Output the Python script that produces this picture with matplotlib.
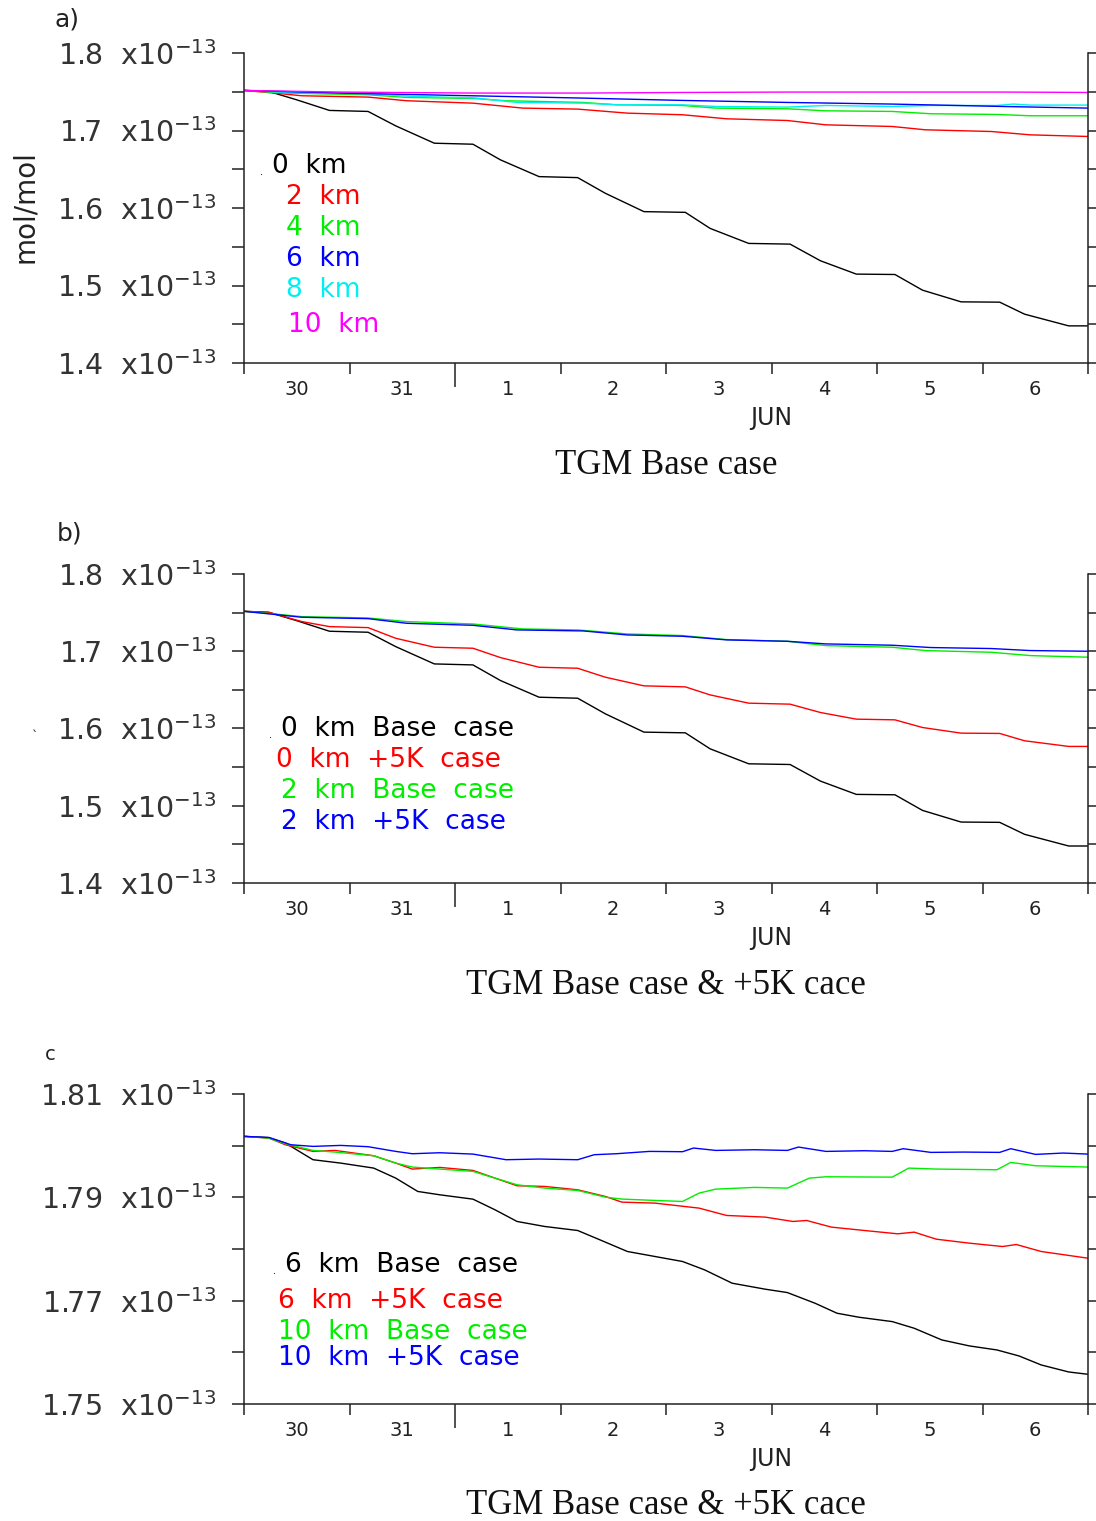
import matplotlib
matplotlib.use('Agg')
import matplotlib.pyplot as plt

plt.rcParams['font.family'] = ['DejaVu Sans']
plt.rcParams['mathtext.default'] = 'regular'

# time in days since 30 May 00:00, values in units of 1e-13 mol/mol
days = ['30', '31', '1', '2', '3', '4', '5', '6']

# panel a
t_0km = [0, 0.235, 0.497, 0.810, 1.176, 1.438, 1.804, 2.170, 2.431, 2.797, 3.163, 3.425, 3.791,
         4.183, 4.418, 4.784, 5.176, 5.464, 5.804, 6.170, 6.431, 6.797, 7.163, 7.399, 7.817, 8.0]
v_0km = [1.7517, 1.7504, 1.7397, 1.7259, 1.7246, 1.7060, 1.6836, 1.6823, 1.6621, 1.6405, 1.6392,
         1.6190, 1.5953, 1.5944, 1.5737, 1.5543, 1.5534, 1.5319, 1.5147, 1.5142, 1.4940, 1.4789,
         1.4785, 1.4630, 1.4479, 1.4479]
t_2km = [0, 0.288, 0.549, 1.176, 1.542, 2.170, 2.641, 3.163, 3.634, 4.157, 4.575, 5.150, 5.516,
         6.144, 6.458, 7.085, 7.451, 8.0]
v_2km = [1.7517, 1.7483, 1.7448, 1.7431, 1.7384, 1.7353, 1.7289, 1.7276, 1.7224, 1.7203, 1.7151,
         1.7129, 1.7073, 1.7052, 1.7009, 1.6987, 1.6944, 1.6923]
t_4km = [0, 0.392, 1.176, 1.542, 2.170, 2.484, 3.216, 3.529, 4.157, 4.471, 5.150, 5.516, 6.144,
         6.510, 7.137, 7.451, 8.0]
v_4km = [1.7517, 1.7483, 1.7461, 1.7427, 1.7414, 1.7384, 1.7362, 1.7332, 1.7323, 1.7289, 1.7280,
         1.7254, 1.7246, 1.7216, 1.7207, 1.7190, 1.7190]
t_6km = [0, 0.915, 2.170, 3.216, 4.157, 5.150, 6.144, 7.190, 8.0]
v_6km = [1.7517, 1.7483, 1.7448, 1.7418, 1.7388, 1.7362, 1.7341, 1.7310, 1.7289]
t_8km = [0, 0.392, 1.176, 1.595, 2.170, 2.588, 3.216, 3.529, 4.157, 4.471, 5.150, 5.516, 6.144,
         6.510, 7.137, 7.294, 7.451, 8.0]
v_8km = [1.7517, 1.7491, 1.7474, 1.7440, 1.7422, 1.7362, 1.7353, 1.7332, 1.7332, 1.7310, 1.7302,
         1.7323, 1.7310, 1.7323, 1.7323, 1.7341, 1.7328, 1.7328]
t_10km = [0, 0.915, 2.170, 3.216, 4.157, 5.150, 6.144, 7.190, 8.0]
v_10km = [1.7517, 1.7496, 1.7483, 1.7483, 1.7491, 1.7496, 1.7496, 1.7496, 1.7491]

# panel b: 0 km +5K and 2 km +5K
t_0km_5k = [0, 0.235, 0.549, 0.810, 1.176, 1.438, 1.804, 2.170, 2.431, 2.797, 3.163, 3.425, 3.791,
            4.183, 4.418, 4.784, 5.176, 5.464, 5.804, 6.170, 6.431, 6.797, 7.163, 7.399, 7.817, 8.0]
v_0km_5k = [1.7517, 1.7504, 1.7384, 1.7319, 1.7306, 1.7168, 1.7052, 1.7039, 1.6918, 1.6793, 1.6780,
            1.6664, 1.6552, 1.6539, 1.6435, 1.6328, 1.6315, 1.6207, 1.6121, 1.6112, 1.6013, 1.5940,
            1.5936, 1.5841, 1.5768, 1.5768]
t_2km_5k = [0, 0.549, 1.176, 1.542, 2.170, 2.588, 3.216, 3.634, 4.157, 4.575, 5.150, 5.516, 6.144,
            6.510, 7.085, 7.451, 8.0]
v_2km_5k = [1.7517, 1.7440, 1.7422, 1.7362, 1.7336, 1.7276, 1.7263, 1.7211, 1.7194, 1.7147, 1.7129,
            1.7095, 1.7078, 1.7048, 1.7035, 1.7009, 1.7000]

# panel c
t_c6 = [0, 0.235, 0.392, 0.654, 0.915, 1.229, 1.438, 1.647, 1.856, 2.170, 2.379, 2.588, 2.850,
        3.163, 3.373, 3.634, 3.895, 4.157, 4.366, 4.627, 4.941, 5.150, 5.412, 5.621, 5.830, 6.144,
        6.353, 6.614, 6.876, 7.137, 7.346, 7.556, 7.817, 8.0]
v_c6 = [1.80180, 1.80154, 1.80051, 1.79728, 1.79663, 1.79566, 1.79372, 1.79114, 1.79049, 1.78965,
        1.78759, 1.78533, 1.78436, 1.78358, 1.78178, 1.77952, 1.77855, 1.77758, 1.77596, 1.77338,
        1.77222, 1.77157, 1.76951, 1.76757, 1.76679, 1.76595, 1.76466, 1.76240, 1.76124, 1.76046,
        1.75930, 1.75756, 1.75620, 1.75575]
t_c6_5k = [0, 0.235, 0.392, 0.654, 0.863, 1.229, 1.438, 1.595, 1.856, 2.170, 2.379, 2.588, 2.850,
           3.163, 3.425, 3.582, 3.895, 4.314, 4.575, 4.941, 5.203, 5.333, 5.569, 5.882, 6.196,
           6.353, 6.562, 6.876, 7.190, 7.320, 7.556, 8.0]
v_c6_5k = [1.80180, 1.80147, 1.80018, 1.79889, 1.79908, 1.79805, 1.79663, 1.79547, 1.79579, 1.79521,
           1.79372, 1.79224, 1.79211, 1.79146, 1.79017, 1.78907, 1.78888, 1.78791, 1.78649, 1.78617,
           1.78533, 1.78552, 1.78423, 1.78358, 1.78294, 1.78326, 1.78190, 1.78113, 1.78048, 1.78087,
           1.77952, 1.77822]
t_c10 = [0, 0.235, 0.392, 0.654, 0.863, 1.229, 1.438, 1.595, 1.856, 2.170, 2.379, 2.588, 2.850,
         3.163, 3.425, 3.582, 3.895, 4.157, 4.314, 4.471, 4.837, 5.150, 5.359, 5.516, 6.144, 6.301,
         6.562, 7.137, 7.268, 7.503, 8.0]
v_c10 = [1.80180, 1.80147, 1.80038, 1.79908, 1.79876, 1.79805, 1.79663, 1.79586, 1.79547, 1.79502,
         1.79372, 1.79243, 1.79179, 1.79133, 1.79004, 1.78966, 1.78940, 1.78920, 1.79082, 1.79159,
         1.79192, 1.79179, 1.79372, 1.79398, 1.79391, 1.79566, 1.79547, 1.79534, 1.79676, 1.79611,
         1.79586]
t_c10_5k = [0, 0.235, 0.444, 0.654, 0.915, 1.176, 1.438, 1.595, 1.856, 2.170, 2.484, 2.797, 3.163,
            3.320, 3.529, 3.843, 4.157, 4.261, 4.471, 4.837, 5.150, 5.255, 5.516, 5.882, 6.144,
            6.248, 6.510, 6.824, 7.163, 7.268, 7.503, 7.765, 8.0]
v_c10_5k = [1.80180, 1.80160, 1.80018, 1.79986, 1.80005, 1.79980, 1.79889, 1.79844, 1.79863, 1.79837,
            1.79728, 1.79741, 1.79728, 1.79825, 1.79844, 1.79889, 1.79883, 1.79954, 1.79908, 1.79921,
            1.79908, 1.79973, 1.79889, 1.79902, 1.79889, 1.79941, 1.79870, 1.79876, 1.79870, 1.79941,
            1.79831, 1.79857, 1.79837]

W, H = 1096, 1521
RED, GREEN, BLUE, CYAN, MAG = '#ff0000', '#00ee00', '#0000ff', '#00f0f0', '#ff00ff'

fig = plt.figure(figsize=(W / 100, H / 100), dpi=100)


def px(x, y):
    return x / W, 1 - y / H


def make_axes(top, bottom, ylim, major, minor, fmt):
    ax = fig.add_axes([244 / W, 1 - bottom / H, 844 / W, (bottom - top) / H])
    ax.set_xlim(0, 8)
    ax.set_ylim(*ylim)
    ax.spines['top'].set_visible(False)
    for s in ['left', 'right', 'bottom']:
        ax.spines[s].set_linewidth(1.1)
        ax.spines[s].set_color('#222222')
    ax.set_yticks(major)
    ax.set_yticklabels([fmt % v + '  x10$^{-13}$' for v in major], fontsize=20.5, color='#333333')
    ax.set_yticks(minor, minor=True)
    ax.tick_params(axis='y', which='both', direction='out', length=9, width=1.1,
                   right=True, pad=11, colors='#222222')
    ax.tick_params(axis='y', labelcolor='#333333')
    ax.set_xticks(range(9))
    ax.set_xticklabels([''] * 9)
    ax.set_xticks([d + 0.5 for d in range(8)], minor=True)
    ax.set_xticklabels(days, minor=True, fontsize=14, color='#222222')
    ax.tick_params(axis='x', which='major', direction='out', length=8, width=1.1, color='#222222')
    ax.tick_params(axis='x', which='minor', length=0, pad=12)
    ax.xaxis.get_major_ticks()[2].tick1line.set_markersize(17)
    return ax


def labels(ax_bottom, title):
    fig.text(*px(771, ax_bottom + 55), 'JUN', fontsize=17, ha='center', va='center', color='#222222')
    fig.text(*px(666, ax_bottom + 102), title, fontsize=25, ha='center', va='center',
             family='Liberation Serif', color='#111111')


def legend(entries, dot):
    fig.text(*px(*dot), '.', fontsize=7, ha='left', va='center', color='black')
    for (x, y, s, c) in entries:
        fig.text(*px(x, y), s, fontsize=19, ha='left', va='center', color=c)


lw = 1.0

# ---- panel a
ax = make_axes(53, 363, (1.4, 1.8), [1.4, 1.5, 1.6, 1.7, 1.8], [1.45, 1.55, 1.65, 1.75], '%.1f')
ax.plot(t_0km, v_0km, color='black', lw=lw)
ax.plot(t_2km, v_2km, color=RED, lw=lw)
ax.plot(t_4km, v_4km, color=GREEN, lw=lw)
ax.plot(t_8km, v_8km, color=CYAN, lw=lw)
ax.plot(t_6km, v_6km, color=BLUE, lw=lw)
ax.plot(t_10km, v_10km, color=MAG, lw=lw)
labels(363, 'TGM Base case')
legend([(272, 166, '0  km', 'black'), (286, 197, '2  km', RED), (286, 228, '4  km', GREEN),
        (286, 259, '6  km', BLUE), (286, 290, '8  km', CYAN), (288, 325, '10  km', MAG)],
       (260, 172))
fig.text(*px(55, 20), 'a)', fontsize=18, ha='left', va='center', color='#222222')
fig.text(*px(25, 207), 'mol/mol', fontsize=20, rotation=90, ha='center', va='center', color='#222222')

# ---- panel b
ax = make_axes(574, 883, (1.4, 1.8), [1.4, 1.5, 1.6, 1.7, 1.8], [1.45, 1.55, 1.65, 1.75], '%.1f')
ax.plot(t_0km, v_0km, color='black', lw=lw)
ax.plot(t_0km_5k, v_0km_5k, color=RED, lw=lw)
ax.plot(t_2km, v_2km, color=GREEN, lw=lw)
ax.plot(t_2km_5k, v_2km_5k, color=BLUE, lw=lw)
labels(883, 'TGM Base case & +5K cace')
legend([(281, 729, '0  km  Base  case', 'black'), (276, 760, '0  km  +5K  case', RED),
        (281, 791, '2  km  Base  case', GREEN), (281, 822, '2  km  +5K  case', BLUE)],
       (269, 735))
fig.text(*px(57, 534), 'b)', fontsize=18, ha='left', va='center', color='#222222')
fig.text(*px(35, 737), '`', fontsize=9, ha='center', va='center', color='#222222')

# ---- panel c
ax = make_axes(1094, 1404, (1.75, 1.81), [1.75, 1.77, 1.79, 1.81], [1.76, 1.78, 1.80], '%.2f')
ax.plot(t_c6, v_c6, color='black', lw=lw)
ax.plot(t_c6_5k, v_c6_5k, color=RED, lw=lw)
ax.plot(t_c10, v_c10, color=GREEN, lw=lw)
ax.plot(t_c10_5k, v_c10_5k, color=BLUE, lw=lw)
labels(1404, 'TGM Base case & +5K cace')
legend([(285, 1265, '6  km  Base  case', 'black'), (278, 1301, '6  km  +5K  case', RED),
        (278, 1332, '10  km  Base  case', GREEN), (278, 1358, '10  km  +5K  case', BLUE)],
       (273, 1271))
fig.text(*px(45, 1055), 'c', fontsize=14, ha='left', va='center', color='#222222')

fig.savefig('out.png', dpi=100)
